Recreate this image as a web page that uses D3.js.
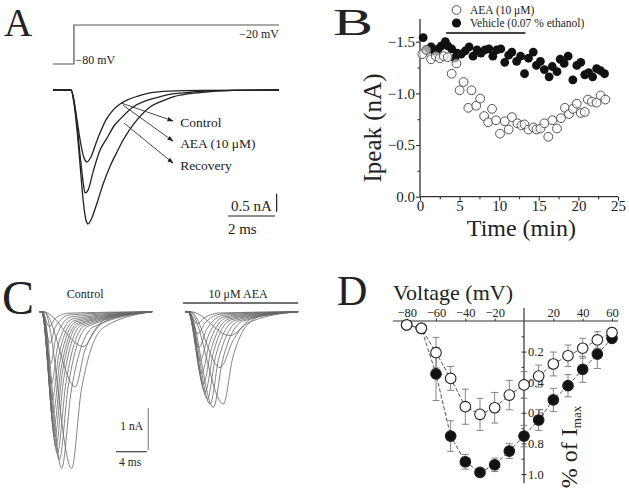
<!DOCTYPE html>
<html><head><meta charset="utf-8">
<script src="https://cdn.jsdelivr.net/npm/d3@7"></script>
<style>
body{margin:0;background:#fff}
svg{display:block}
text{font-family:"Liberation Serif","Times New Roman",serif;fill:#222}
</style>
</head><body>
<svg id="c" width="629" height="488"></svg>
<script>
// ---------- Panel A data (ms, nA) ----------
const aStepTime = [0, 0.89, 0.89, 9.6];
const aStepMv = [-80, -80, -20, -20];
const aControl = [[0,0],[0.77,0],[0.89,-0.36],[1.02,-1.11],[1.15,-2.08],[1.28,-3.06],[1.40,-3.61],[1.49,-3.72],[1.61,-3.61],[1.87,-3.14],[2.13,-2.61],[2.43,-2.11],[2.72,-1.72],[2.98,-1.39],[3.28,-1.08],[3.57,-0.83],[4.12,-0.47],[4.63,-0.31],[5.10,-0.19],[6.24,-0.07],[7.65,-0.01],[9.6,0]];
const aRecovery = [[0,0],[0.77,0],[0.89,-0.33],[1.02,-0.97],[1.15,-1.81],[1.28,-2.56],[1.36,-2.86],[1.49,-2.78],[1.70,-2.28],[2.0,-1.67],[2.30,-1.33],[2.59,-1.0],[2.85,-0.81],[3.40,-0.47],[3.91,-0.31],[4.42,-0.21],[5.06,-0.11],[5.70,-0.07],[6.97,-0.02],[9.6,0]];
const aAEA = [[0,0],[0.77,0],[0.89,-0.28],[1.02,-0.83],[1.19,-1.53],[1.32,-1.89],[1.44,-2.0],[1.61,-1.86],[1.83,-1.47],[2.0,-1.19],[2.25,-0.83],[2.55,-0.56],[2.85,-0.39],[3.14,-0.28],[3.61,-0.17],[4.12,-0.08],[4.97,-0.03],[6.24,-0.01],[9.6,0]];
const aLabels = ["Control", "AEA (10 \u03bcM)", "Recovery"];

// ---------- Panel B data ----------
const bAeaTime = [0.3,0.8,1.4,2.0,2.5,3.0,3.5,4.0,4.6,5.0,5.5,6.1,6.5,7.1,7.6,8.1,8.6,9.1,9.6,10.1,10.7,11.2,11.6,12.3,12.8,13.2,13.7,14.3,14.7,15.2,15.7,16.2,16.7,17.3,17.8,18.3,18.8,19.3,19.8,20.3,20.8,21.2,21.7,22.3,22.8,23.4];
const bAeaIpeak = [-1.38,-1.42,-1.33,-1.36,-1.34,-1.36,-1.35,-1.19,-1.29,-1.03,-1.11,-0.86,-1.03,-0.88,-0.95,-0.78,-0.72,-0.85,-0.74,-0.61,-0.73,-0.65,-0.77,-0.71,-0.69,-0.70,-0.65,-0.67,-0.65,-0.66,-0.71,-0.58,-0.74,-0.66,-0.76,-0.86,-0.80,-0.85,-0.90,-0.81,-0.82,-0.94,-0.92,-0.91,-0.98,-0.94];
const bVehTime = [0.4,0.85,1.4,1.8,2.3,2.7,3.2,3.5,4.0,4.4,4.7,5.2,5.7,6.2,6.7,7.2,7.7,8.2,8.7,9.2,9.7,10.2,10.7,11.2,11.6,12.2,12.7,13.2,13.7,14.3,14.7,15.2,15.7,16.3,16.7,17.3,17.7,18.2,18.7,19.3,19.8,20.3,20.8,21.3,21.8,22.3,22.8,23.3];
const bVehIpeak = [-1.54,-1.42,-1.45,-1.41,-1.43,-1.46,-1.50,-1.46,-1.43,-1.34,-1.39,-1.38,-1.41,-1.45,-1.36,-1.42,-1.39,-1.42,-1.43,-1.36,-1.42,-1.43,-1.30,-1.37,-1.40,-1.31,-1.36,-1.19,-1.34,-1.40,-1.27,-1.31,-1.23,-1.16,-1.26,-1.21,-1.33,-1.29,-1.36,-1.13,-1.27,-1.30,-1.18,-1.20,-1.16,-1.24,-1.22,-1.19];
const bXTicks = [0,5,10,15,20,25];
const bYTicks = [0,-0.5,-1.0,-1.5];
const bAppl = [3.3, 13.3];
const bLegend = ["AEA (10 \u03bcM)", "Vehicle (0.07 % ethanol)"];

// ---------- Panel C data: [onset ms, peak ms, peak nA, half-recovery ms, 10%-recovery ms] ----------
const cEnd = 14.7;
const cControl = [
 [0.5,5.8,-0.83,7.3,9.5],[0.6,4.7,-1.79,6.0,9.2],[0.7,4.24,-3.73,5.5,8.4],[0.5,2.94,-3.73,4.2,7.0],
 [0.45,2.64,-3.53,3.8,6.3],[0.45,2.38,-3.37,3.5,5.9],[0.4,2.2,-3.21,3.2,5.5],[0.4,2.08,-2.98,3.0,5.2],
 [0.4,1.95,-2.74,2.85,5.0],[0.35,1.86,-2.42,2.7,4.8],[0.35,1.73,-2.1,2.55,4.6],[0.35,1.65,-1.71,2.4,4.4],
 [0.35,1.52,-1.23,2.2,4.2],[0.35,1.43,-0.75,2.1,4.0],[0.35,1.34,-0.36,2.0,3.8]];
const cAea = [
 [0.8,5.84,-0.57,8.0,10.5],[0.7,4.55,-1.33,6.3,9.0],[0.6,4.98,-2.2,6.2,8.8],[0.5,3.68,-2.28,4.9,7.5],
 [0.5,3.25,-2.2,4.4,7.0],[0.45,2.9,-2.08,4.0,6.5],[0.45,2.6,-1.92,3.7,6.0],[0.4,2.38,-1.72,3.45,5.7],
 [0.4,2.16,-1.47,3.2,5.4],[0.4,1.95,-1.17,3.0,5.2],[0.4,1.82,-0.85,2.8,5.0],[0.4,1.69,-0.53,2.6,4.8],
 [0.4,1.6,-0.29,2.5,4.6]];

// ---------- Panel D data ----------
const dVoltage = [-80,-70,-60,-50,-40,-30,-20,-10,0,10,20,30,40,50,60];
const dAeaNorm = [0.026,0.048,0.207,0.375,0.56,0.61,0.567,0.484,0.418,0.36,0.281,0.227,0.178,0.124,0.076];
const dAeaErr  = [0.02,0.02,0.1,0.078,0.115,0.105,0.10,0.096,0.087,0.072,0.078,0.07,0.065,0.054,0.03];
const dCtrlNorm = [0.026,0.048,0.346,0.752,0.92,0.99,0.94,0.85,0.752,0.647,0.516,0.423,0.316,0.216,0.113];
const dCtrlErr  = [0.02,0.02,0.174,0.10,0.048,0.02,0.044,0.048,0.07,0.068,0.076,0.072,0.085,0.094,0.02];
const dXTicks = [-80,-60,-40,-20,20,40,60];
const dYTicks = [0.2,0.4,0.6,0.8,1.0];

const svg = d3.select("#c");
const minus = v => (v < 0 ? "\u2212" : "") + Math.abs(v);

// ===== Panel A =====
const gA = svg.append("g");
const xA = d3.scaleLinear().domain([0, 9.6]).range([53, 279]);
const yA = d3.scaleLinear().domain([0, -3.8]).range([90, 226.8]);
const yStep = d3.scaleLinear().domain([-80, -20]).range([64, 25]);
gA.append("text").attr("x", 4).attr("y", 36).attr("font-size", 39).text("A");
gA.append("path")
  .attr("d", d3.line().x((d,i)=>xA(aStepTime[i])).y(d=>yStep(d))(aStepMv))
  .attr("fill","none").attr("stroke","#555").attr("stroke-width",1.2);
gA.append("text").attr("x", xA(0.95)).attr("y", 64).attr("font-size", 12).text("\u221280 mV");
gA.append("text").attr("x", xA(9.6)).attr("y", 38).attr("font-size", 12).attr("text-anchor","end").text("\u221220 mV");
const lineA = d3.line().x(d=>xA(d[0])).y(d=>yA(d[1])).curve(d3.curveMonotoneX);
[aControl, aRecovery, aAEA].forEach(tr => {
  gA.append("path").attr("d", lineA(tr)).attr("fill","none").attr("stroke","#222").attr("stroke-width",1.3);
});
const defs = svg.append("defs");
defs.append("marker").attr("id","arr").attr("viewBox","0 0 10 10").attr("refX",9).attr("refY",5)
  .attr("markerWidth",7).attr("markerHeight",7).attr("orient","auto")
  .append("path").attr("d","M0,1.5L10,5L0,8.5Z").attr("fill","#222");
const aArrows = [[[2.89,-0.36],[5.10,-0.86]],[[2.97,-0.42],[5.10,-1.42]],[[3.02,-0.92],[5.10,-2.03]]];
const aLabelI = [-1.03,-1.61,-2.22];
aArrows.forEach((a,i) => {
  gA.append("line").attr("x1",xA(a[0][0])).attr("y1",yA(a[0][1])).attr("x2",xA(a[1][0])).attr("y2",yA(a[1][1]))
    .attr("stroke","#333").attr("stroke-width",0.9).attr("marker-end","url(#arr)");
  gA.append("text").attr("x", xA(5.4)).attr("y", yA(aLabelI[i])).attr("font-size", 13.5).text(aLabels[i]);
});
// scale bars
gA.append("line").attr("x1",xA(9.5)).attr("x2",xA(9.5)).attr("y1",yA(-2.88)).attr("y2",yA(-3.38)).attr("stroke","#222").attr("stroke-width",1.2);
gA.append("text").attr("x", xA(9.3)).attr("y", yA(-3.36)).attr("font-size",15).attr("text-anchor","end").text("0.5 nA");
gA.append("line").attr("x1",xA(7.43)).attr("x2",xA(9.43)).attr("y1",216).attr("y2",216).attr("stroke","#222").attr("stroke-width",1.2);
gA.append("text").attr("x", xA(7.43)).attr("y", 234).attr("font-size",15).text("2 ms");

// ===== Panel B =====
const gB = svg.append("g");
const xB = d3.scaleLinear().domain([0,25]).range([420,618]);
const yB = d3.scaleLinear().domain([0,-1.5]).range([196.7,41.7]);
gB.append("text").attr("x", 333).attr("y", 35).attr("font-size", 38).attr("textLength",40).attr("lengthAdjust","spacingAndGlyphs").text("B");
const axB1 = gB.append("g").attr("transform","translate(0,196.7)")
  .call(d3.axisBottom(xB).tickValues(bXTicks).tickSize(4).tickPadding(0).tickFormat(d3.format("d")));
const axB1m = gB.append("g").attr("transform","translate(0,196.7)")
  .call(d3.axisBottom(xB).tickValues([2.5,7.5,12.5,17.5,22.5]).tickSize(2.5).tickFormat(""));
const axB2 = gB.append("g").attr("transform","translate(420,0)")
  .call(d3.axisLeft(yB).tickValues(bYTicks).tickSize(4).tickPadding(1).tickFormat(d => d===0 ? "0.0" : "\u2212"+Math.abs(d).toFixed(1)));
const axB2m = gB.append("g").attr("transform","translate(420,0)")
  .call(d3.axisLeft(yB).tickValues([-0.25,-0.75,-1.25]).tickSize(2.5).tickFormat(""));
[axB1,axB1m,axB2,axB2m].forEach(a => {
  a.select(".domain").remove();
  a.selectAll("line").attr("stroke","#333").attr("stroke-width",1.1);
  a.selectAll("text").attr("font-size",15).attr("font-family","Liberation Serif").attr("fill","#222");
});
gB.append("line").attr("x1",420).attr("x2",420).attr("y1",yB(-1.72)).attr("y2",196.7).attr("stroke","#333").attr("stroke-width",1.3);
gB.append("line").attr("x1",420).attr("x2",xB(25)).attr("y1",196.7).attr("y2",196.7).attr("stroke","#333").attr("stroke-width",1.3);
gB.append("text").attr("transform","translate(381,128) rotate(-90)").attr("text-anchor","middle").attr("font-size",25).text("Ipeak (nA)");
gB.append("text").attr("x", xB(12.8)).attr("y", 236).attr("text-anchor","middle").attr("font-size",24).text("Time (min)");
gB.append("line").attr("x1",xB(bAppl[0])).attr("x2",xB(bAppl[1])).attr("y1",33).attr("y2",33).attr("stroke","#444").attr("stroke-width",2);
gB.selectAll("circle.veh").data(bVehTime).enter().append("circle").attr("class","veh")
  .attr("cx",(d)=>xB(d)).attr("cy",(d,i)=>yB(bVehIpeak[i])).attr("r",4.4).attr("fill","#111");
gB.selectAll("circle.aea").data(bAeaTime).enter().append("circle").attr("class","aea")
  .attr("cx",(d)=>xB(d)).attr("cy",(d,i)=>yB(bAeaIpeak[i])).attr("r",4.4).attr("fill","#fff").attr("fill-opacity",0.6).attr("stroke","#555").attr("stroke-width",1);
gB.append("circle").attr("cx",456.5).attr("cy",10).attr("r",4.4).attr("fill","#fff").attr("stroke","#555").attr("stroke-width",1);
gB.append("circle").attr("cx",456.5).attr("cy",23).attr("r",4.6).attr("fill","#111");
gB.append("text").attr("x",470).attr("y",14).attr("font-size",11.5).text(bLegend[0]);
gB.append("text").attr("x",470).attr("y",27).attr("font-size",11.5).text(bLegend[1]);

// ===== Panel C =====
const gC = svg.append("g");
gC.append("text").attr("x", 2).attr("y", 314).attr("font-size", 48).text("C");
const yC = d3.scaleLinear().domain([0,-4]).range([311.7,479.7]);
const xC1 = d3.scaleLinear().domain([0,cEnd]).range([39,152.2]);
const xC2 = d3.scaleLinear().domain([0,cEnd]).range([185,298.2]);
const cPts = p => [[0,0],[p[0],0],[p[1],p[2]],[p[3],p[2]*0.5],[p[4],p[2]*0.1],[cEnd,0]];
[[cControl,xC1],[cAea,xC2]].forEach(([set,xs]) => {
  const ln = d3.line().x(d=>xs(d[0])).y(d=>yC(d[1])).curve(d3.curveMonotoneX);
  set.forEach(p => gC.append("path").attr("d", ln(cPts(p))).attr("fill","none").attr("stroke","#666").attr("stroke-width",0.8));
});
gC.append("text").attr("x", xC1(6.0)).attr("y", 298).attr("text-anchor","middle").attr("font-size",12).text("Control");
gC.append("text").attr("x", xC2(6.9)).attr("y", 298).attr("text-anchor","middle").attr("font-size",12).text("10 \u03bcM AEA");
gC.append("line").attr("x1",xC2(-0.26)).attr("x2",xC2(14.7)).attr("y1",303).attr("y2",303).attr("stroke","#444").attr("stroke-width",1.3);
gC.append("line").attr("x1",148.3).attr("x2",148.3).attr("y1",yC(-2.29)).attr("y2",yC(-3.29)).attr("stroke","#888").attr("stroke-width",1.2);
gC.append("text").attr("x",143).attr("y",430).attr("text-anchor","end").attr("font-size",11.5).text("1 nA");
gC.append("line").attr("x1",xC1(10)).attr("x2",xC1(14)).attr("y1",451.7).attr("y2",451.7).attr("stroke","#444").attr("stroke-width",1.2);
gC.append("text").attr("x",xC1(10.4)).attr("y",466).attr("font-size",11.5).text("4 ms");

// ===== Panel D =====
const gD = svg.append("g");
gD.append("text").attr("x", 337).attr("y", 305).attr("font-size", 42).text("D");
const xD = d3.scaleLinear().domain([0,60]).range([524,612]);
const yD = d3.scaleLinear().domain([0,1]).range([321,474]);
gD.append("line").attr("x1",xD(-89.4)).attr("x2",xD(64.1)).attr("y1",321).attr("y2",321).attr("stroke","#333").attr("stroke-width",1.2);
gD.append("line").attr("x1",524).attr("x2",524).attr("y1",yD(-0.085)).attr("y2",yD(1.06)).attr("stroke","#333").attr("stroke-width",1.2);
const axDx = gD.append("g").attr("transform","translate(0,321)")
  .call(d3.axisTop(xD).tickValues(dXTicks).tickSize(2.5).tickPadding(1.5).tickFormat(minus));
const axDy = gD.append("g").attr("transform","translate(524,0)")
  .call(d3.axisRight(yD).tickValues(dYTicks).tickSize(2.5).tickPadding(1.5).tickFormat(d3.format(".1f")));
const axDym = gD.append("g").attr("transform","translate(524,0)")
  .call(d3.axisLeft(yD).tickValues([0.1,0.2,0.3,0.4,0.5,0.6,0.7,0.8,0.9,1.0]).tickSize(2.5).tickFormat(""));
[axDx,axDy,axDym].forEach(a => {
  a.select(".domain").remove();
  a.selectAll("line").attr("stroke","#333");
  a.selectAll("text").attr("font-size",12.5).attr("font-family","Liberation Serif").attr("fill","#222");
});
gD.append("text").attr("x",393).attr("y",300).attr("font-size",22).text("Voltage (mV)");
const lab = gD.append("text").attr("transform","translate(577,447) rotate(-90)").attr("text-anchor","middle").attr("font-size",24);
lab.append("tspan").text("% of I");
lab.append("tspan").attr("font-size",13).attr("dy",4).text("max");
const lineD = d3.line().x((d,i)=>xD(dVoltage[i])).y(d=>yD(d));
const series = [
  {norm:dCtrlNorm, err:dCtrlErr, fill:"#111"},
  {norm:dAeaNorm, err:dAeaErr, fill:"#fff"}
];
series.forEach(s => {
  gD.append("path").attr("d", lineD(s.norm)).attr("fill","none").attr("stroke","#555").attr("stroke-width",1).attr("stroke-dasharray","4,2");
});
series.forEach(s => {
  dVoltage.forEach((v,i) => {
    const x = xD(v), y1 = yD(s.norm[i]-s.err[i]), y2 = yD(s.norm[i]+s.err[i]);
    gD.append("line").attr("x1",x).attr("x2",x).attr("y1",y1).attr("y2",y2).attr("stroke","#777").attr("stroke-width",0.9);
    gD.append("line").attr("x1",x-3.5).attr("x2",x+3.5).attr("y1",y1).attr("y2",y1).attr("stroke","#777").attr("stroke-width",0.9);
    gD.append("line").attr("x1",x-3.5).attr("x2",x+3.5).attr("y1",y2).attr("y2",y2).attr("stroke","#777").attr("stroke-width",0.9);
  });
});
series.forEach(s => {
  gD.selectAll(null).data(s.norm).enter().append("circle")
    .attr("cx",(d,i)=>xD(dVoltage[i])).attr("cy",d=>yD(d)).attr("r",5.3)
    .attr("fill",s.fill).attr("stroke","#222").attr("stroke-width",1.1);
});
</script>
</body></html>
